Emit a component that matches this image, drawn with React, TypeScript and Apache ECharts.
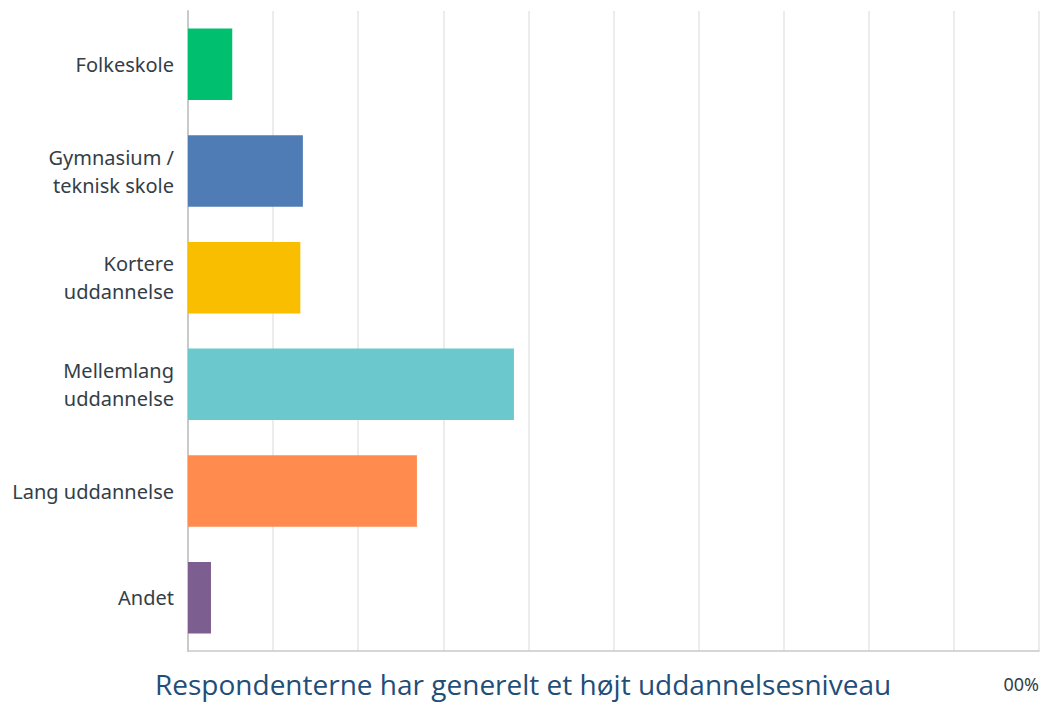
import React, { useEffect, useRef } from "react";
import * as echarts from "echarts";

const categories = [
  "Folkeskole",
  "Gymnasium /\nteknisk skole",
  "Kortere\nuddannelse",
  "Mellemlang\nuddannelse",
  "Lang uddannelse",
  "Andet",
];
const values = [5.2, 13.5, 13.2, 38.3, 26.9, 2.7];
const colors = ["#00BF6F", "#507CB6", "#F9BE00", "#6BC8CD", "#FF8B4F", "#7D5E90"];
const xTicks = [0, 10, 20, 30, 40, 50, 60, 70, 80, 90, 100];
const title = "Respondenterne har generelt et højt uddannelsesniveau";

export default function App() {
  const ref = useRef<HTMLDivElement>(null);
  useEffect(() => {
    if (!ref.current) return;
    const chart = echarts.init(ref.current, null, { renderer: "svg" });
    const maxTick = xTicks[xTicks.length - 1];
    chart.setOption({
      animation: false,
      grid: { left: 188, right: 3, top: 11, bottom: 51, containLabel: false },
      xAxis: {
        type: "value",
        min: xTicks[0],
        max: maxTick,
        interval: 10,
        axisLine: { show: true, lineStyle: { color: "#c9c9c9", width: 1.5 } },
        axisTick: { show: false },
        splitLine: { show: true, lineStyle: { color: "#e6e6e6", width: 1.5 } },
        axisLabel: {
          formatter: (v: number) => (v === maxTick ? v + "%" : ""),
          color: "#333e48",
          fontFamily: "Noto Sans",
          fontSize: 18,
          margin: 24,
          alignMaxLabel: "right",
        },
      },
      yAxis: {
        type: "category",
        inverse: true,
        data: categories,
        axisLine: { show: true, lineStyle: { color: "#c9c9c9", width: 2 } },
        axisTick: { show: false },
        axisLabel: {
          color: "#333e48",
          fontFamily: "Noto Sans",
          fontSize: 20,
          lineHeight: 28,
          margin: 14,
          align: "right",
        },
      },
      series: [
        {
          type: "bar",
          data: values.map((v, i) => ({ value: v, itemStyle: { color: colors[i] } })),
          barCategoryGap: "33%",
        },
      ],
      graphic: [
        {
          type: "rect",
          shape: { x: 150, y: 664, width: 851, height: 38 },
          style: { fill: "#ffffff" },
          z: 100,
        },
        {
          type: "text",
          x: 155,
          y: 684,
          style: {
            text: title,
            fill: "#1F4E79",
            font: "28px 'Open Sans'",
            lineHeight: 30,
            textVerticalAlign: "middle",
          },
          z: 101,
        },
      ],
    });
    return () => chart.dispose();
  }, []);
  return <div ref={ref} style={{ width: 1042, height: 702, position: "absolute", left: 0, top: 0 }} />;
}
